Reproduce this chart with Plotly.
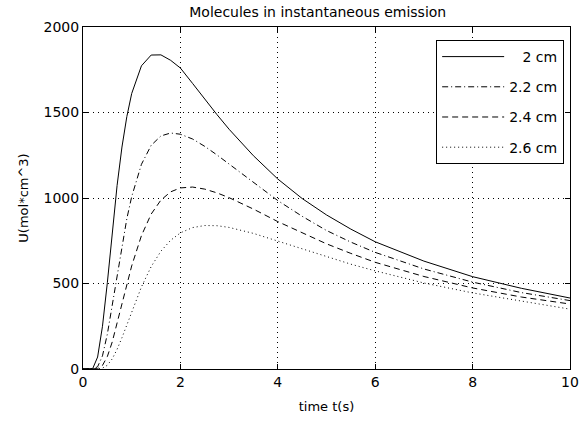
import plotly.graph_objects as go

# time (s)
t = [0, 0.1, 0.2, 0.3, 0.4, 0.5, 0.6, 0.7, 0.8, 0.9, 1.0, 1.2, 1.4, 1.6, 1.8,
     2.0, 2.25, 2.5, 2.75, 3.0, 3.5, 4.0, 4.5, 5.0, 5.5, 6.0, 7.0, 8.0, 9.0, 10.0]

# concentration U (mol*cm^3)
u_2_0 = [0, 0, 3, 70, 250, 505, 804, 1073, 1298, 1476, 1611, 1773, 1836, 1837, 1805,
         1760, 1670, 1578, 1488, 1402, 1247, 1111, 997, 901, 818, 744, 631, 540, 472, 415]
u_2_2 = [0, 0, 0, 13, 77, 204, 372, 553, 725, 879, 1008, 1197, 1308, 1363, 1380,
         1373, 1345, 1302, 1252, 1198, 1092, 985, 893, 810, 742, 682, 585, 508, 447, 400]
u_2_4 = [0, 0, 0, 2, 21, 73, 158, 266, 382, 496, 603, 780, 906, 988, 1036,
         1059, 1064, 1052, 1030, 1002, 935, 862, 797, 732, 676, 624, 541, 474, 421, 380]
u_2_6 = [0, 0, 0, 0, 5, 22, 59, 115, 183, 259, 336, 480, 599, 689, 753,
         796, 827, 839, 838, 828, 793, 748, 702, 656, 613, 574, 503, 445, 396, 350]

names = ["2 cm", "2.2 cm", "2.4 cm", "2.6 cm"]
series = [u_2_0, u_2_2, u_2_4, u_2_6]
dashes = ["solid", "6px,3px,1px,3px", "6px,4px", "1px,3px"]

xticks = [0, 2, 4, 6, 8, 10]
yticks = [0, 500, 1000, 1500, 2000]

FONT = "DejaVu Sans, Verdana, sans-serif"

fig = go.Figure()
for name, y, d in zip(names, series, dashes):
    fig.add_trace(go.Scatter(
        x=t, y=y, mode="lines",
        name=("\u00a0\u00a0\u00a0" + name) if name == "2 cm" else name,
        legendgroup=name,
        line=dict(color="black", width=1, dash=d),
    ))

axis_common = dict(
    showline=True, linecolor="black", linewidth=1, mirror="ticks",
    ticks="inside", ticklen=5, tickcolor="black", tickwidth=1,
    showgrid=True, gridcolor="black", gridwidth=1, griddash="1px,4px",
    zeroline=False, automargin=False,
    tickfont=dict(family=FONT, size=14, color="black"),
)

fig.update_layout(
    width=587, height=423,
    margin=dict(l=83, r=17, t=27, b=54),
    paper_bgcolor="white", plot_bgcolor="white",
    font=dict(family=FONT, size=13, color="black"),
    title=dict(text="Molecules in instantaneous emission", x=0.482, xref="paper",
               xanchor="center",
               y=0.972, yanchor="middle", yref="container", automargin=False,
               font=dict(family=FONT, size=14, color="black")),
    xaxis=dict(range=[0, 10], tickvals=xticks,
               title=dict(text="time t(s)", standoff=13, font=dict(family=FONT, size=13)),
               **axis_common),
    yaxis=dict(range=[0, 2000], tickvals=yticks,
               title=dict(text="U(mol*cm^3)", standoff=12, font=dict(family=FONT, size=13)),
               **axis_common),
    legend=dict(x=0.988, y=0.962, xanchor="right", yanchor="top",
                bordercolor="black", borderwidth=1, bgcolor="white",
                itemwidth=62, tracegroupgap=9,
                font=dict(family=FONT, size=14, color="black")),
    showlegend=True,
)

fig.write_html("out.html", config={"displayModeBar": False},
               post_script="document.body.style.margin='0';")
